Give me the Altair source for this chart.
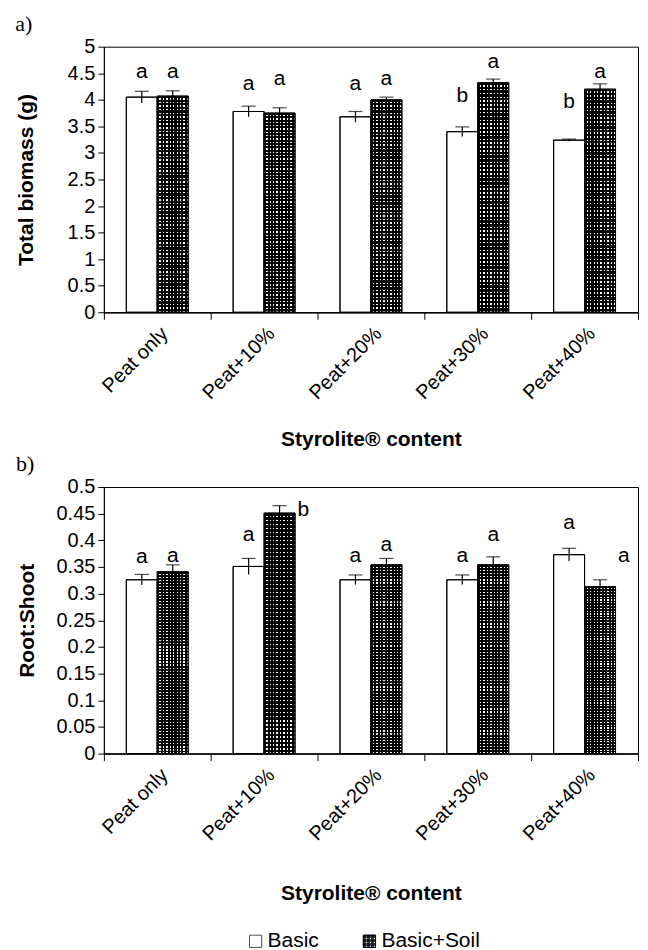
import altair as alt
import pandas as pd

categories = ["Peat only", "Peat+10%", "Peat+20%", "Peat+30%", "Peat+40%"]
groups = ["Basic", "Basic+Soil"]

# Panel a) Total biomass (g)
biomass_basic = [4.05, 3.78, 3.68, 3.40, 3.24]
biomass_soil = [4.07, 3.75, 4.00, 4.32, 4.20]
biomass_basic_err = [0.11, 0.10, 0.10, 0.09, 0.02]
biomass_soil_err = [0.10, 0.10, 0.05, 0.07, 0.10]
biomass_basic_letters = ["a", "a", "a", "b", "b"]
biomass_soil_letters = ["a", "a", "a", "a", "a"]
biomass_basic_letter_y = [4.53, 4.30, 4.30, 4.08, 3.95]
biomass_soil_letter_y = [4.53, 4.40, 4.40, 4.72, 4.53]
biomass_soil_letter_side = ["above", "above", "above", "above", "above"]

# Panel b) Root:Shoot
rs_basic = [0.326, 0.351, 0.326, 0.326, 0.373]
rs_soil = [0.341, 0.451, 0.354, 0.354, 0.313]
rs_basic_err = [0.010, 0.015, 0.009, 0.009, 0.012]
rs_soil_err = [0.013, 0.014, 0.012, 0.015, 0.013]
rs_basic_letters = ["a", "a", "a", "a", "a"]
rs_soil_letters = ["a", "b", "a", "a", "a"]
rs_basic_letter_y = [0.369, 0.410, 0.370, 0.370, 0.433]
rs_soil_letter_y = [0.370, 0.457, 0.392, 0.410, 0.371]
rs_soil_letter_side = ["above", "right", "above", "above", "right"]

FONT = "Liberation Sans"
PLOT_W = 535


def stripes(n, vertical, frac=0.6):
    stops = []
    clear = "rgba(0,0,0,0)"
    for k in range(n):
        a = k / n
        b = (k + frac) / n
        c = (k + 1) / n
        stops += [
            {"offset": a, "color": "black"},
            {"offset": b, "color": "black"},
            {"offset": b, "color": clear},
            {"offset": c, "color": clear},
        ]
    if vertical:
        return {"gradient": "linear", "stops": stops, "x1": 0, "y1": 0, "x2": 1, "y2": 0}
    return {"gradient": "linear", "stops": stops, "x1": 0, "y1": 0, "x2": 0, "y2": 1}


def make_df(basic, soil, berr, serr, bl, sl, bly, sly, sside):
    rows = []
    for i, c in enumerate(categories):
        rows.append(dict(cat=c, grp="Basic", val=basic[i], err=berr[i],
                         letter=bl[i], ly=bly[i], side="above"))
        rows.append(dict(cat=c, grp="Basic+Soil", val=soil[i], err=serr[i],
                         letter=sl[i], ly=sly[i], side=sside[i]))
    df = pd.DataFrame(rows)
    df["lo"] = df["val"] - df["err"]
    df["hi"] = df["val"] + df["err"]
    return df


def panel(df, ytitle, yvalues, ymax, label, height, hstripes, xtpad, ytpad):
    x = alt.X("cat:N", sort=categories,
              scale=alt.Scale(paddingInner=0, paddingOuter=0),
              axis=alt.Axis(title="Styrolite® content", labelAngle=-45,
                            labelFontSize=20, titleFontSize=21,
                            titleFontWeight="bold", tickBand="extent",
                            tickSize=7, titlePadding=xtpad, labelPadding=4,
                            labelFont=FONT, titleFont=FONT,
                            domainColor="black", tickColor="black",
                            labelColor="black", titleColor="black",
                            domainWidth=1.5, labelOverlap=False))
    xo = alt.XOffset("grp:N", sort=groups,
                     scale=alt.Scale(paddingInner=0, paddingOuter=0.726))
    yscale = alt.Scale(domain=[0, ymax], nice=False)
    yaxis = alt.Axis(title=ytitle, values=yvalues, format="~g",
                     labelFontSize=20, titleFontSize=21,
                     titleFontWeight="bold", tickSize=6,
                     labelPadding=3, titlePadding=ytpad,
                     labelFont=FONT, titleFont=FONT,
                     domainColor="black", tickColor="black",
                     labelColor="black", titleColor="black",
                     grid=False, labelOverlap=False)

    def Y(f):
        return alt.Y(f, scale=yscale, axis=yaxis)

    base = alt.Chart(df)
    soil = base.transform_filter(alt.datum.grp == "Basic+Soil")
    bars = base.mark_bar(fill="white", stroke="black", strokeWidth=1).encode(x=x, xOffset=xo, y=Y("val:Q"))
    vstr = soil.mark_bar(fill=stripes(9, True)).encode(x=x, xOffset=xo, y=Y("val:Q"))
    hstr = soil.mark_bar(fill=stripes(hstripes, False)).encode(x=x, xOffset=xo, y=Y("val:Q"))
    outline = base.mark_bar(fillOpacity=0, stroke="black", strokeWidth=1).encode(x=x, xOffset=xo, y=Y("val:Q"))
    rule = base.mark_rule(color="black", strokeWidth=1.2).encode(
        x=x, xOffset=xo, y=Y("lo:Q"), y2="hi:Q")
    cap = base.mark_tick(color="black", orient="horizontal", size=14, thickness=1.2).encode(
        x=x, xOffset=xo, y=Y("hi:Q"))
    txt_above = base.transform_filter(alt.datum.side == "above").mark_text(
        font=FONT, fontSize=21, baseline="middle", color="black").encode(
        x=x, xOffset=xo, y=Y("ly:Q"), text="letter:N")
    txt_right = base.transform_filter(alt.datum.side == "right").mark_text(
        font=FONT, fontSize=21, baseline="middle", align="left", dx=18, color="black").encode(
        x=x, xOffset=xo, y=Y("ly:Q"), text="letter:N")
    return alt.layer(bars, vstr, hstr, outline, rule, cap, txt_above, txt_right).properties(
        width=PLOT_W, height=height,
        title=alt.TitleParams(label, anchor="start", font="Liberation Serif",
                              fontSize=22, fontWeight="normal", color="black",
                              frame="bounds", offset=1))


df_a = make_df(biomass_basic, biomass_soil, biomass_basic_err, biomass_soil_err,
               biomass_basic_letters, biomass_soil_letters,
               biomass_basic_letter_y, biomass_soil_letter_y, biomass_soil_letter_side)
df_b = make_df(rs_basic, rs_soil, rs_basic_err, rs_soil_err,
               rs_basic_letters, rs_soil_letters,
               rs_basic_letter_y, rs_soil_letter_y, rs_soil_letter_side)

top = panel(df_a, "Total biomass (g)", [i * 0.5 for i in range(11)], 5, "a)", 266, 60,
            xtpad=26, ytpad=31)
bottom = panel(df_b, "Root:Shoot", [round(i * 0.05, 2) for i in range(11)], 0.5, "b)", 267, 60,
               xtpad=38, ytpad=19)

leg_df = pd.DataFrame({"grp": groups})
lx = alt.X("grp:N", sort=groups,
           scale=alt.Scale(domain=groups, range=[152, 266], padding=0), axis=None)
ly = alt.value(35)
leg_sq = alt.Chart(leg_df).mark_square(size=150, fill="white", stroke="black", strokeWidth=1).encode(x=lx, y=ly)
leg_soil = alt.Chart(leg_df).transform_filter(alt.datum.grp == "Basic+Soil")
leg_v = leg_soil.mark_square(size=150, fill=stripes(3, True)).encode(x=lx, y=ly)
leg_h = leg_soil.mark_square(size=150, fill=stripes(3, False)).encode(x=lx, y=ly)
leg_o = leg_soil.mark_square(size=150, fillOpacity=0, stroke="black", strokeWidth=1).encode(x=lx, y=ly)
leg_t = alt.Chart(leg_df).mark_text(font=FONT, fontSize=21, align="left", dx=12,
                                    baseline="middle", color="black").encode(x=lx, y=ly, text="grp:N")
legend = alt.layer(leg_sq, leg_v, leg_h, leg_o, leg_t).properties(
    width=PLOT_W, height=40, view=alt.ViewBackground(stroke="transparent"))

chart = alt.vconcat(top, bottom, legend, spacing=1).configure_view(
    stroke="black", strokeWidth=1).properties(padding={"left": 6, "top": 3, "right": 1, "bottom": 0})

chart.save("out.html", embed_options={"renderer": "svg", "actions": False})
